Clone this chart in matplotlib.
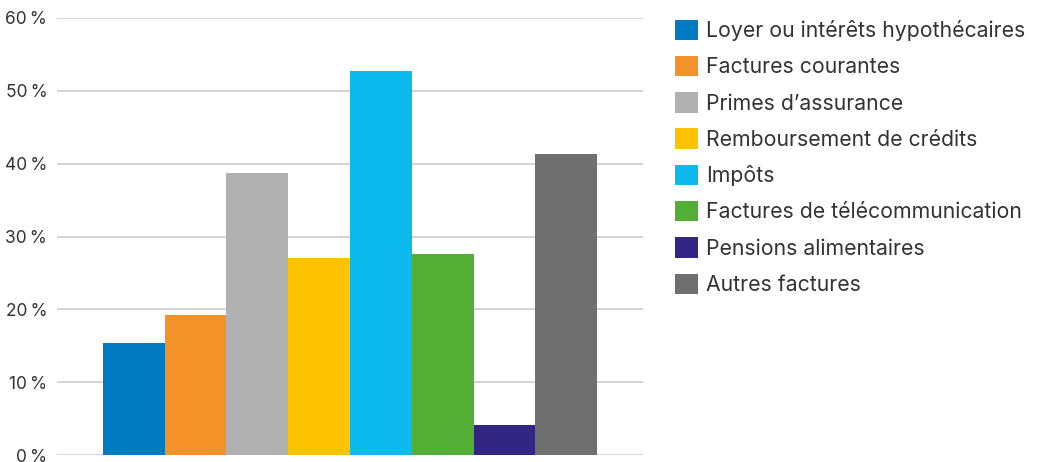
import matplotlib.pyplot as plt
from matplotlib.patches import Patch

# data
categories = ["Loyer ou intérêts hypothécaires", "Factures courantes", "Primes d\u2019assurance",
              "Remboursement de crédits", "Impôts", "Factures de télécommunication",
              "Pensions alimentaires", "Autres factures"]
values = [15.4, 19.2, 38.7, 27.0, 52.7, 27.6, 4.1, 41.3]
colors = ["#007AC1", "#F39229", "#B1B1B1", "#FDC300", "#0DBAEE", "#52AE35", "#312682", "#6F6F6F"]
yticks = [0, 10, 20, 30, 40, 50, 60]

plt.rcParams['font.family'] = ['Inter', 'DejaVu Sans']

fig = plt.figure(figsize=(10.37, 4.62), dpi=100)
ax = fig.add_axes([57 / 1037, 7 / 462, 586 / 1037, 437 / 462])

ax.bar(range(len(values)), values, width=1.0, color=colors, zorder=3)

ax.set_xlim(-1.24, 8.24)
ax.set_ylim(0, 60)
ax.set_yticks(yticks)
ax.set_yticklabels([f"{t}\u202f%" for t in yticks], fontsize=12.5, color="#333333")
ax.set_xticks([])
ax.tick_params(axis='y', length=0, pad=7)
ax.grid(axis='y', color="#D3D3D3", linewidth=1.4, zorder=0)
for s in ax.spines.values():
    s.set_visible(False)

handles = [Patch(facecolor=c, edgecolor='none') for c in colors]
fig.legend(handles, categories, loc='upper left', bbox_to_anchor=(666 / 1037, 1 - 11 / 462),
           frameon=False, fontsize=15.3, handlelength=1.1, handleheight=1.1,
           handletextpad=0.4, labelspacing=0.7, borderaxespad=0, labelcolor="#333333")

fig.savefig("out.png", dpi=100)
